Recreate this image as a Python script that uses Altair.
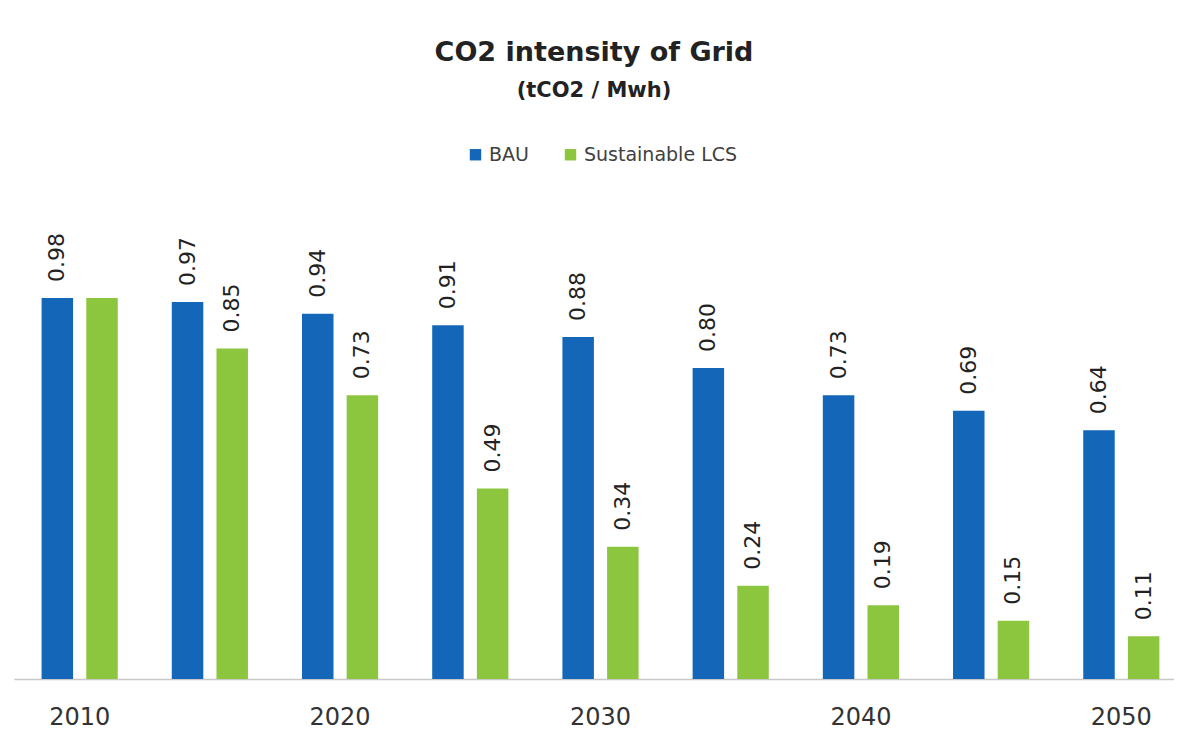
import altair as alt
import pandas as pd

years = [2010, 2015, 2020, 2025, 2030, 2035, 2040, 2045, 2050]
series_names = ["BAU", "Sustainable LCS"]
bau = [0.98, 0.97, 0.94, 0.91, 0.88, 0.80, 0.73, 0.69, 0.64]
lcs = [0.98, 0.85, 0.73, 0.49, 0.34, 0.24, 0.19, 0.15, 0.11]
bau_labels = ["0.98", "0.97", "0.94", "0.91", "0.88", "0.80", "0.73", "0.69", "0.64"]
lcs_labels = ["", "0.85", "0.73", "0.49", "0.34", "0.24", "0.19", "0.15", "0.11"]
colors = ["#1467B8", "#8CC63F"]

rows = []
for i, y in enumerate(years):
    rows.append({"year": y, "series": series_names[0], "value": bau[i], "label": bau_labels[i]})
    rows.append({"year": y, "series": series_names[1], "value": lcs[i], "label": lcs_labels[i]})
df = pd.DataFrame(rows)

FONT = "DejaVu Sans"

x_enc = alt.X(
    "year:O",
    scale=alt.Scale(paddingInner=0.415, paddingOuter=0.162, align=0.654),
    axis=alt.Axis(
        title=None,
        labelExpr="datum.value % 10 == 0 ? datum.label : ''",
        labelAngle=0,
        labelFont=FONT,
        labelFontSize=24,
        labelColor="#333333",
        labelPadding=26,
        ticks=False,
        tickSize=0,
        domainColor="#C8C8C8",
        domainWidth=1.5,
        grid=False,
    ),
)
xoff = alt.XOffset("series:N", sort=series_names, scale=alt.Scale(paddingInner=0.295, paddingOuter=0))
y_enc = alt.Y("value:Q", scale=alt.Scale(domain=[0, 1.15]), axis=None)

bars = alt.Chart(df).mark_bar().encode(
    x=x_enc,
    xOffset=xoff,
    y=y_enc,
    color=alt.Color(
        "series:N",
        sort=series_names,
        scale=alt.Scale(domain=series_names, range=colors),
        legend=alt.Legend(
            title=None,
            orient="none",
            direction="horizontal",
            legendX=452,
            legendY=-87,
            symbolType="square",
            symbolSize=130,
            symbolStrokeWidth=0,
            labelFont=FONT,
            labelFontSize=19,
            labelColor="#404040",
            columnPadding=32,
            padding=0,
        ),
    ),
)

labels = alt.Chart(df).mark_text(
    angle=270,
    align="left",
    baseline="middle",
    dx=16,
    font=FONT,
    fontSize=22,
    color="#222222",
).encode(
    x=x_enc,
    xOffset=xoff,
    y=y_enc,
    text="label:N",
)

chart = (
    alt.layer(bars, labels)
    .properties(
        width=1160,
        height=447,
        background="white",
        padding={"left": 6, "top": 31, "right": 0, "bottom": 5},
        title=alt.TitleParams(
            text="CO2 intensity of Grid",
            subtitle="(tCO2 / Mwh)",
            font=FONT,
            fontSize=27,
            fontWeight="bold",
            color="#222222",
            subtitleFont=FONT,
            subtitleFontSize=21,
            subtitleFontWeight="bold",
            subtitleColor="#222222",
            subtitlePadding=13,
            anchor="middle",
            offset=43,
        ),
    )
    .configure_view(strokeWidth=0, stroke="transparent")
)

chart.save("out.html", embed_options={"renderer": "svg", "actions": False})
